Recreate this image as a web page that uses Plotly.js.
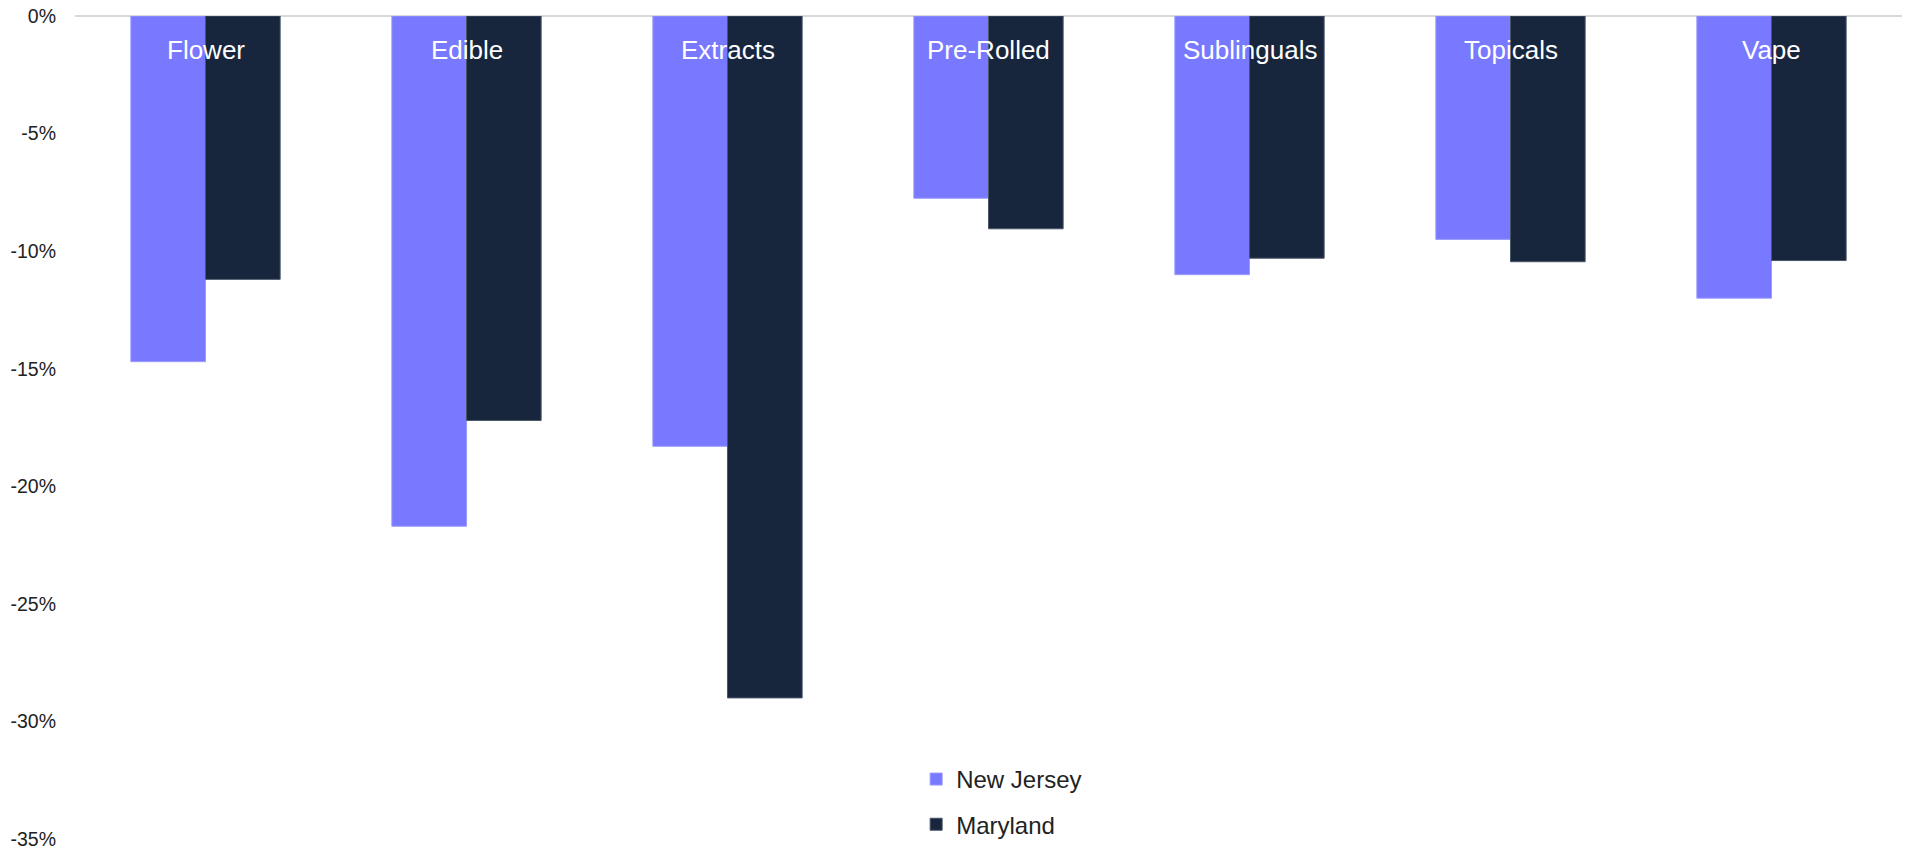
<!DOCTYPE html>
<html>
<head>
<meta charset="utf-8">
<script src="https://cdn.plot.ly/plotly-3.0.1.min.js"></script>
<style>html,body{margin:0;padding:0;background:#fff;}#chart{width:1913px;height:851px;}</style>
</head>
<body>
<div id="chart"></div>
<script>
const categories = ["Flower", "Edible", "Extracts", "Pre-Rolled", "Sublinguals", "Topicals", "Vape"];
const newJersey = [-14.7, -21.7, -18.3, -7.75, -11.0, -9.5, -12.0];
const maryland = [-11.2, -17.2, -29.0, -9.05, -10.3, -10.45, -10.4];
const tickValues = [0, -5, -10, -15, -20, -25, -30, -35];
const tickLabels = ["0%", "-5%", "-10%", "-15%", "-20%", "-25%", "-30%", "-35%"];

const traces = [
  {type: "bar", name: "New Jersey", x: categories, y: newJersey, legendgroup: "a",
   marker: {color: "#7979FF", line: {color: "#9a9aff", width: 1}}, hoverinfo: "x+y"},
  {type: "bar", name: "Maryland", x: categories, y: maryland, legendgroup: "b",
   marker: {color: "#17263D", line: {color: "#4a5568", width: 1}}, hoverinfo: "x+y"}
];

const annotations = categories.map(c => ({
  x: c, y: 0, xref: "x", yref: "y", text: c, showarrow: false,
  yanchor: "middle", yshift: -34,
  font: {family: "Arial, Liberation Sans, sans-serif", size: 26, color: "#ffffff"}
}));

const layout = {
  width: 1913, height: 851,
  margin: {l: 75, r: 11, t: 16, b: 12, autoexpand: false},
  paper_bgcolor: "#ffffff", plot_bgcolor: "#ffffff",
  barmode: "group", bargap: 0.428, bargroupgap: 0,
  font: {family: "Arial, Liberation Sans, sans-serif", color: "#222222"},
  xaxis: {showticklabels: false, showgrid: false, zeroline: false, showline: false, ticks: "", automargin: false},
  yaxis: {range: [-35, 0], tickvals: tickValues, ticktext: tickLabels, showgrid: false,
          zeroline: true, zerolinecolor: "#d9d9d9", zerolinewidth: 1.5, showline: false,
          ticks: "", ticklabelstandoff: 18, ticklabeloverflow: "allow", automargin: false,
          tickfont: {size: 19.5, color: "#222222"}},
  showlegend: true,
  legend: {x: 0.4604, xanchor: "left", y: 0.0997, yanchor: "top", orientation: "v",
           traceorder: "grouped", tracegroupgap: 11, bgcolor: "rgba(0,0,0,0)",
           font: {size: 24, color: "#222222"}, itemwidth: 30},
  annotations: annotations
};

Plotly.newPlot("chart", traces, layout, {displayModeBar: false, staticPlot: true});
</script>
</body>
</html>
